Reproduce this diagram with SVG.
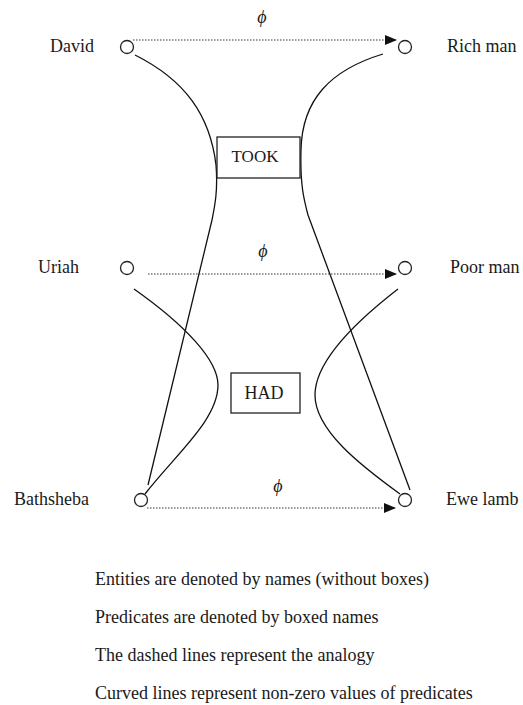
<svg xmlns="http://www.w3.org/2000/svg" width="523" height="705" viewBox="0 0 523 705">
<defs>
<marker id="arr" viewBox="0 0 12 10" refX="12" refY="5" markerWidth="12" markerHeight="10" markerUnits="userSpaceOnUse" orient="auto">
<path d="M0,0 L12,5 L0,10 Z" fill="#111"/>
</marker>
</defs>
<style>
text{font-family:"Liberation Serif","Times New Roman",serif;fill:#1a1a1a}
.lbl{font-size:18px}
.box{font-size:17px;text-anchor:middle}
.phi{font-size:18px;font-style:italic;text-anchor:middle}
.note{font-size:18px}
.node{fill:#fff;stroke:#222;stroke-width:1.3}
.rect{fill:#fff;stroke:#222;stroke-width:1.3}
.curve{fill:none;stroke:#111;stroke-width:1.3}
.dot{fill:none;stroke:#333;stroke-width:1;stroke-dasharray:1.5 1.5}
</style>
<rect width="523" height="705" fill="#fff"/>
<g id="connectors">
<path class="curve" d="M135,55 C185,80 210,115 216,165 C218,190 215,205 212,220 L148,485"/>
<path class="curve" d="M383,54 C330,70 302,100 301,150 C300,185 304,200 308,215 L410,490"/>
<path class="curve" d="M134,289 C185,325 218,360 218,385 C218,420 175,455 145,494"/>
<path class="curve" d="M398,289 C345,330 315,365 315,395 C315,430 360,465 400,494"/>
<line class="dot" x1="133" y1="40" x2="397" y2="40" marker-end="url(#arr)"/>
<line class="dot" x1="148" y1="274" x2="397" y2="274" marker-end="url(#arr)"/>
<line class="dot" x1="147" y1="508" x2="396" y2="508" marker-end="url(#arr)"/>
<text class="phi" x="262" y="23">ϕ</text>
<text class="phi" x="263" y="257">ϕ</text>
<text class="phi" x="278" y="492">ϕ</text>
</g>
<g id="took"><rect class="rect" x="217" y="137" width="83" height="41"/><text class="box" x="255" y="162">TOOK</text></g>
<g id="had"><rect class="rect" x="231" y="373" width="69" height="40"/><text class="box" x="264" y="399" style="font-size:18px">HAD</text></g>
<g id="david"><circle class="node" cx="127" cy="47" r="6.5"/><text class="lbl" x="50" y="52">David</text></g>
<g id="richman"><circle class="node" cx="405" cy="47" r="6.5"/><text class="lbl" x="447" y="52">Rich man</text></g>
<g id="uriah"><circle class="node" cx="127" cy="268" r="6.5"/><text class="lbl" x="38" y="273">Uriah</text></g>
<g id="poorman"><circle class="node" cx="405" cy="268" r="6.5"/><text class="lbl" x="450" y="273">Poor man</text></g>
<g id="bathsheba"><circle class="node" cx="141" cy="500" r="6.5"/><text class="lbl" x="14" y="505">Bathsheba</text></g>
<g id="ewelamb"><circle class="node" cx="405" cy="500" r="6.5"/><text class="lbl" x="446" y="505">Ewe lamb</text></g>
<g id="legend">
<text class="note" x="95" y="585">Entities are denoted by names (without boxes)</text>
<text class="note" x="95" y="623">Predicates are denoted by boxed names</text>
<text class="note" x="95" y="661">The dashed lines represent the analogy</text>
<text class="note" x="95" y="699">Curved lines represent non-zero values of predicates</text>
</g>
</svg>
